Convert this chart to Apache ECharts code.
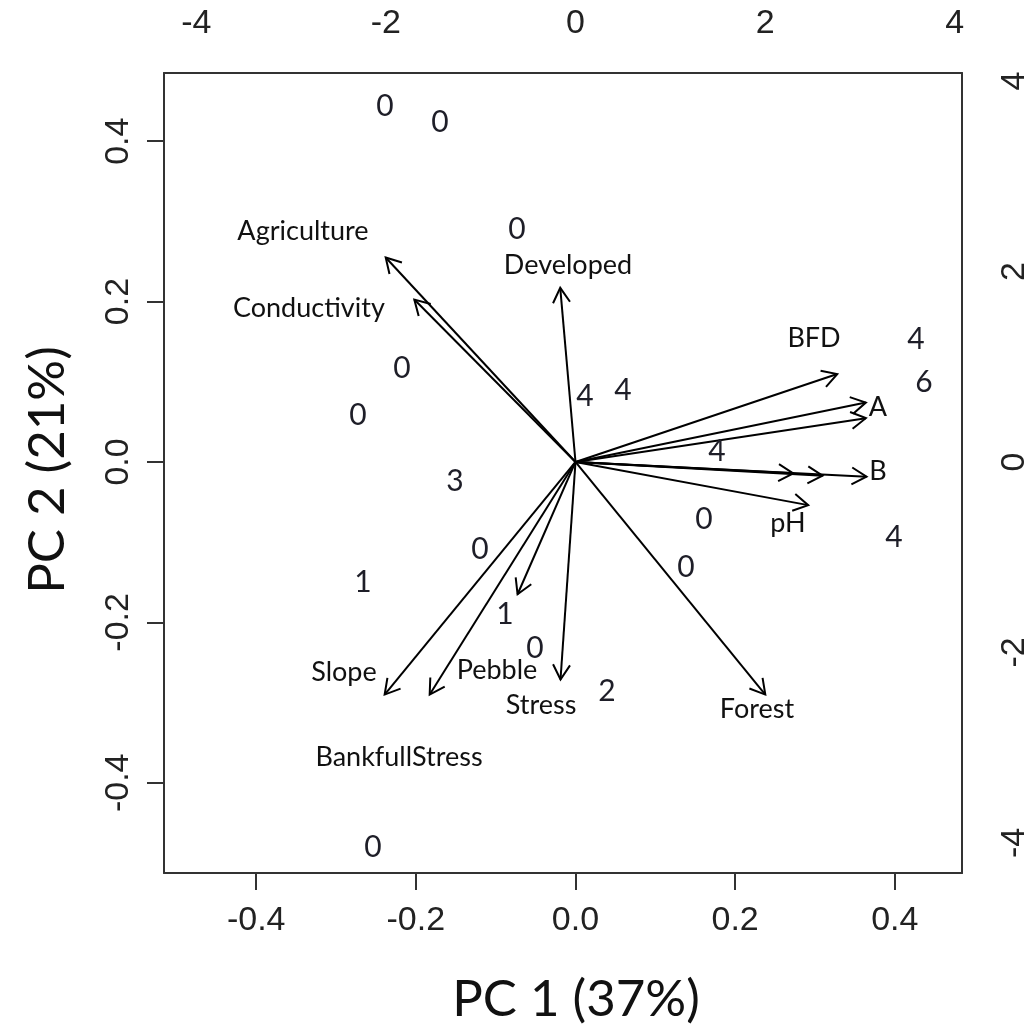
<!DOCTYPE html>
<html><head><meta charset="utf-8">
<script src="https://cdn.jsdelivr.net/npm/echarts@6/dist/echarts.min.js"></script>
<style>html,body{margin:0;padding:0;background:#fff}#c{width:1034px;height:1028px}</style>
</head><body><div id="c"></div>
<script>
// Axis ticks
const pcTicks = [-0.4, -0.2, 0, 0.2, 0.4];
const loadingTicks = [-4, -2, 0, 2, 4];
const pc1Range = [-0.5155, 0.4842];
const pc2Range = [-0.5125, 0.4850];
const loadingScale = 8.42;

// Site scores (PC1, PC2) and their labels
const scoreX = [-0.2386, -0.1697, -0.0733, -0.2173, -0.2725, 0.0119, 0.0595, 0.4266, 0.4366, -0.1510, 0.1610, 0.3990, -0.1196, 0.1384, -0.2662, -0.0883, -0.0507, 0.0395, -0.2537, 0.1773];
const scoreY = [0.4439, 0.4239, 0.2905, 0.1172, 0.0586, 0.0823, 0.0898, 0.1534, 0.0998, -0.0237, -0.0711, -0.0935, -0.1085, -0.1309, -0.1496, -0.1895, -0.2319, -0.2855, -0.4800, 0.0137];
const scoreLabel = ['0', '0', '0', '0', '0', '4', '4', '4', '6', '3', '0', '4', '0', '0', '1', '1', '0', '2', '0', '4'];

// Variable loadings (arrows, top/right axes)
const varNames = ['Agriculture', 'Conductivity', 'Developed', 'BFD', 'A', 'A', 'B', 'B', 'B', 'pH', 'Forest', 'Stress', 'Pebble', 'BankfullStress', 'Slope'];
const loadX = [-2.002, -1.700, -0.161, 2.761, 3.063, 3.063, 2.297, 2.606, 3.070, 2.455, 2.002, -0.158, -0.611, -1.538, -2.013];
const loadY = [2.147, 1.705, 1.828, 0.923, 0.624, 0.460, -0.119, -0.144, -0.155, -0.453, -2.442, -2.284, -1.389, -2.442, -2.442];

// Variable label text placement (PC1, PC2 units)
const varLabelText = ['Agriculture', 'Conductivity', 'Developed', 'BFD', 'A', 'B', 'pH', 'Forest', 'Stress', 'Pebble', 'Slope', 'BankfullStress'];
const varLabelX = [-0.3414, -0.3340, -0.0094, 0.2988, 0.3789, 0.3789, 0.2662, 0.2274, -0.0432, -0.0984, -0.2900, -0.2211];
const varLabelY = [0.2880, 0.1920, 0.2456, 0.1546, 0.0686, -0.0112, -0.0761, -0.3080, -0.3030, -0.2594, -0.2618, -0.3678];

const axisFont = '"Liberation Sans", "DejaVu Sans", sans-serif';
const textFont = 'Lato, "Noto Sans", sans-serif';
const boxLine = { show: true, onZero: false, lineStyle: { color: '#333', width: 2 } };

const chart = echarts.init(document.getElementById('c'), null, { renderer: 'canvas' });

const scoreData = scoreX.map((x, i) => [x, scoreY[i], scoreLabel[i]]);
const loadData = loadX.map((x, i) => [x, loadY[i], varNames[i]]);
const varLabelData = varLabelX.map((x, i) => [x, varLabelY[i], varLabelText[i]]);

function textRender(size, color) {
  return function (params, api) {
    const p = api.coord([api.value(0), api.value(1)]);
    return {
      type: 'text', x: p[0], y: p[1],
      style: { text: String(api.value(2)), fill: color, font: size + 'px ' + textFont, textAlign: 'center', textVerticalAlign: 'middle' }
    };
  };
}

const tickLabelStyle = { fontFamily: axisFont, fontWeight: 'condensed', fontSize: 34, color: '#222' };

chart.setOption({
  animation: false,
  backgroundColor: '#fff',
  grid: { left: 164, top: 73, width: 798, height: 800, containLabel: false },
  xAxis: [
    { type: 'value', position: 'bottom', min: pc1Range[0], max: pc1Range[1],
      axisLine: boxLine, splitLine: { show: false },
      axisTick: { show: true, length: 17, inside: false, customValues: pcTicks, lineStyle: { color: '#333', width: 2 } },
      axisLabel: Object.assign({ customValues: pcTicks, formatter: v => v.toFixed(1), margin: 31 }, tickLabelStyle) },
    { type: 'value', position: 'top', min: pc1Range[0] * loadingScale, max: pc1Range[1] * loadingScale,
      axisLine: boxLine, splitLine: { show: false }, axisTick: { show: false },
      axisLabel: Object.assign({ customValues: loadingTicks, formatter: v => String(v), margin: 32 }, tickLabelStyle) }
  ],
  yAxis: [
    { type: 'value', position: 'left', min: pc2Range[0], max: pc2Range[1],
      axisLine: boxLine, splitLine: { show: false },
      axisTick: { show: true, length: 17, inside: false, customValues: pcTicks, lineStyle: { color: '#333', width: 2 } },
      axisLabel: Object.assign({ customValues: pcTicks, formatter: v => v.toFixed(1), margin: 28, rotate: 90 }, tickLabelStyle) },
    { type: 'value', position: 'right', min: pc2Range[0] * loadingScale, max: pc2Range[1] * loadingScale,
      axisLine: boxLine, splitLine: { show: false }, axisTick: { show: false },
      axisLabel: Object.assign({ customValues: loadingTicks, formatter: v => String(v), margin: 36, rotate: 90 }, tickLabelStyle) }
  ],
  graphic: [
    { type: 'text', x: 576, y: 1000, style: { text: 'PC 1 (37%)', font: '51px ' + textFont, fill: '#111', textAlign: 'center', textVerticalAlign: 'middle' } },
    { type: 'text', x: 48, y: 470, rotation: Math.PI / 2, style: { text: 'PC 2 (21%)', font: '51px ' + textFont, fill: '#111', textAlign: 'center', textVerticalAlign: 'middle' } }
  ],
  series: [
    { type: 'custom', name: 'loadings', xAxisIndex: 1, yAxisIndex: 1, data: loadData, clip: false,
      renderItem: function (params, api) {
        const o = api.coord([0, 0]);
        const t = api.coord([api.value(0), api.value(1)]);
        const ang = Math.atan2(t[1] - o[1], t[0] - o[0]);
        const L = 17, a = Math.PI / 6;
        const h1 = [t[0] - L * Math.cos(ang - a), t[1] - L * Math.sin(ang - a)];
        const h2 = [t[0] - L * Math.cos(ang + a), t[1] - L * Math.sin(ang + a)];
        const st = { stroke: '#000', lineWidth: 2, fill: null };
        return { type: 'group', children: [
          { type: 'line', shape: { x1: o[0], y1: o[1], x2: t[0], y2: t[1] }, style: st },
          { type: 'polyline', shape: { points: [h1, t, h2] }, style: st }
        ] };
      } },
    { type: 'custom', name: 'scores', xAxisIndex: 0, yAxisIndex: 0, data: scoreData, clip: false, renderItem: textRender(30, '#1e1e28') },
    { type: 'custom', name: 'varLabels', xAxisIndex: 0, yAxisIndex: 0, data: varLabelData, clip: false, renderItem: textRender(27, '#111') }
  ]
});
</script></body></html>
